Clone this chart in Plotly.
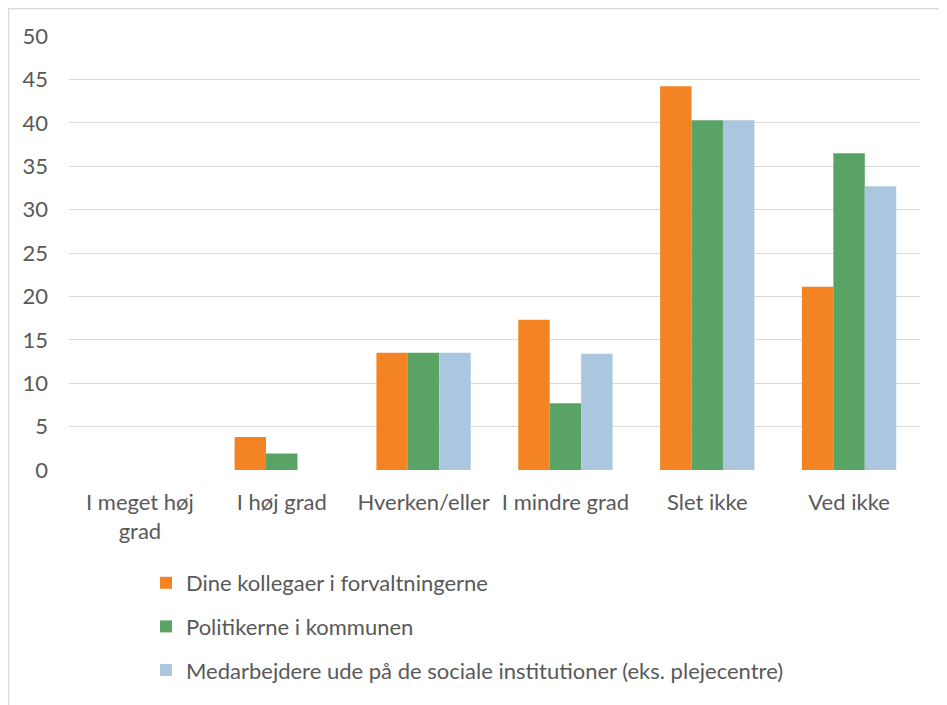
import plotly.graph_objects as go

categories = ["I meget høj<br>grad", "I høj grad", "Hverken/eller", "I mindre grad", "Slet ikke", "Ved ikke"]
series_names = [
    "Dine kollegaer i forvaltningerne",
    "Politikerne i kommunen",
    "Medarbejdere ude på de sociale institutioner (eks. plejecentre)",
]
kollegaer = [0, 3.8, 13.5, 17.3, 44.2, 21.1]
politikerne = [0, 1.9, 13.5, 7.7, 40.3, 36.5]
medarbejdere = [0, 0, 13.5, 13.4, 40.3, 32.7]
colors = ["#F38323", "#59A465", "#AAC7DF"]
y_ticks = [0, 5, 10, 15, 20, 25, 30, 35, 40, 45, 50]

FONT = "Lato"
TXT = "#595959"
FS = 22

# figure is drawn 8px in from the page edge (browser body margin)
W, H = 939, 697
L, R, T, B = 61, 912, 28, 462
PW, PH = R - L, B - T

fig = go.Figure()
for i, (name, vals) in enumerate(zip(series_names, [kollegaer, politikerne, medarbejdere])):
    fig.add_trace(go.Bar(
        x=categories, y=vals, name=name, marker=dict(color=colors[i], line=dict(width=0)),
        legendgroup=f"g{i}",
    ))

fig.update_layout(
    width=W, height=H,
    margin=dict(l=L, r=W - R, t=T, b=H - B, autoexpand=False),
    paper_bgcolor="white", plot_bgcolor="white",
    barmode="group", bargap=0.335, bargroupgap=0,
    font=dict(family=FONT, size=FS, color=TXT),
    showlegend=True,
    legend=dict(
        x=(138 - L) / PW, y=(B - 554) / PH, xanchor="left", yanchor="top",
        orientation="v", tracegroupgap=12, traceorder="grouped",
        font=dict(family=FONT, size=FS, color=TXT),
        bgcolor="rgba(0,0,0,0)",
    ),
    xaxis=dict(
        showgrid=False, showline=False, zeroline=False, ticks="", automargin=False,
        tickfont=dict(family=FONT, size=FS, color=TXT), ticklabelstandoff=17, tickangle=0,
    ),
    yaxis=dict(
        range=[0, 50], tickvals=y_ticks, showgrid=True, gridcolor="#D9D9D9", gridwidth=1.3,
        zeroline=False, showline=False, ticks="", automargin=False,
        tickfont=dict(family=FONT, size=FS, color=TXT), ticklabelstandoff=20,
    ),
    shapes=[
        dict(type="rect", xref="paper", yref="paper",
             x0=(0.7 - L) / PW, x1=(960 - L) / PW,
             y0=(B - 720) / PH, y1=(B - 0.7) / PH,
             line=dict(color="#D9D9D9", width=1.3), fillcolor="rgba(0,0,0,0)", layer="below"),
    ],
)

fig.write_html("out.html")
